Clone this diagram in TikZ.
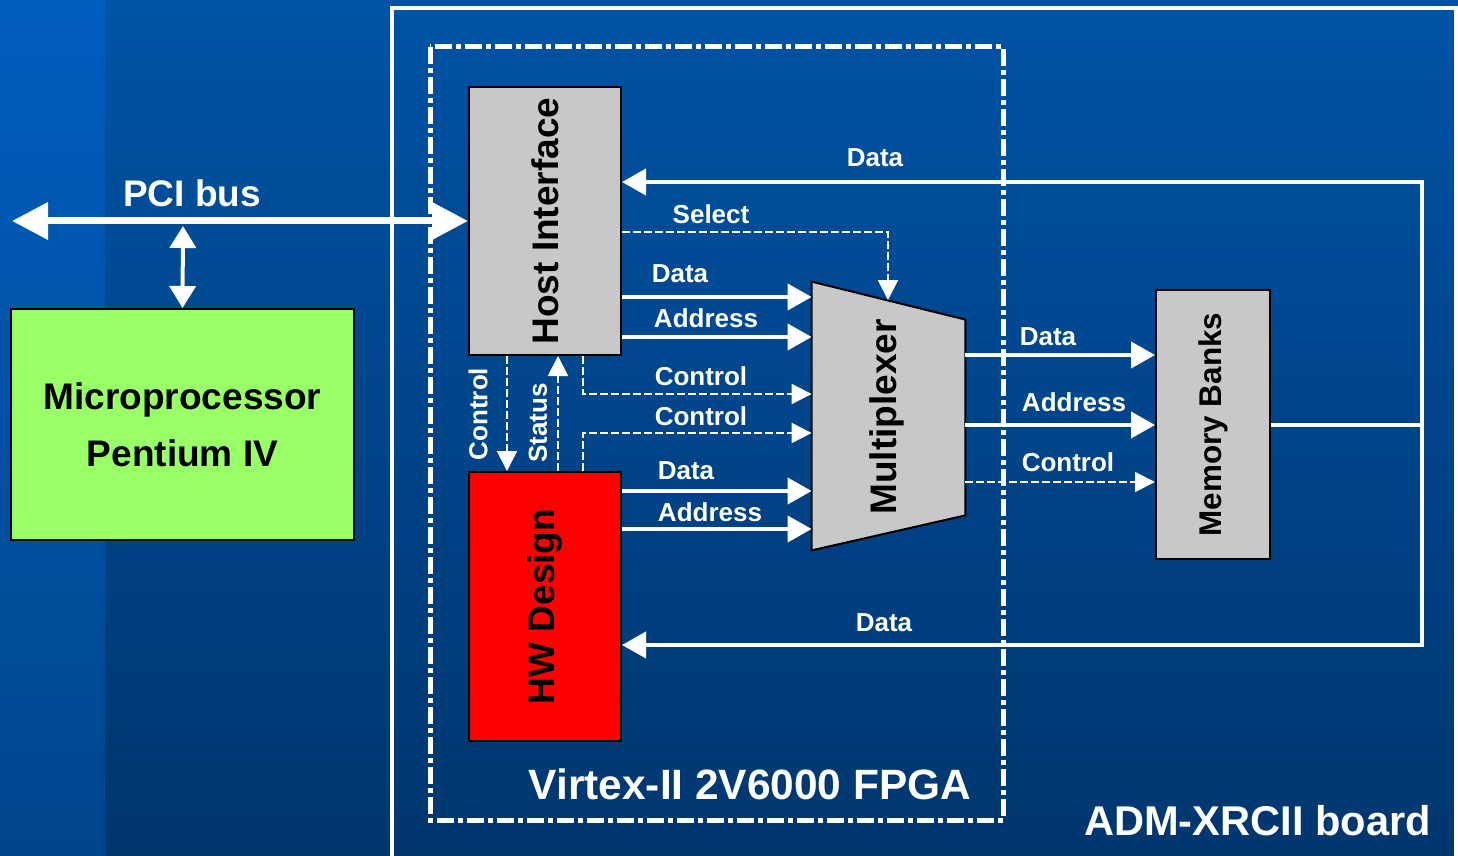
\documentclass[tikz,border=0pt]{standalone}
\usepackage{fontspec}
\setmainfont{Liberation Sans}
\usetikzlibrary{arrows.meta,calc}
\definecolor{stripTop}{RGB}{0,94,190}
\definecolor{stripBot}{RGB}{0,70,140}
\definecolor{boardTop}{RGB}{0,83,166}
\definecolor{boardBot}{RGB}{0,54,110}
\definecolor{boxgray}{RGB}{200,200,200}
\definecolor{cpugreen}{RGB}{153,255,102}
\tikzset{
	blk/.style={draw=black, line width=1pt, inner sep=0pt, font=\bfseries\fontsize{18.5}{28.5}\selectfont},
	bus/.style={draw=white, line width=2pt, -{Triangle[length=12pt,width=13pt]}},
	ctl/.style={draw=white, line width=1pt, dash pattern=on 4pt off 1.5pt, -{Triangle[length=10pt,width=10pt]}},
	lbl/.style={text=white, inner sep=0pt, anchor=base, font=\bfseries\fontsize{13}{15}\selectfont},
	bigtxt/.style={text=white, inner sep=0pt, anchor=base, font=\bfseries\fontsize{#1}{#1}\selectfont}
}

\begin{document}
\begin{tikzpicture}[x=0.5pt,y=-0.5pt]
				\useasboundingbox (0,0) rectangle (1458,856);
				\clip (0,0) rectangle (1458,856);
				\shade[top color=boardTop, bottom color=boardBot] (0,0) rectangle (1458,856);
				\shade[top color=stripTop, bottom color=stripBot] (0,0) rectangle (105,856);
				
				\draw[white, line width=2pt] (392,8) rectangle (1456,880);
				\draw[white, line width=2.5pt, dash pattern=on 8.5pt off 2pt on 2.5pt off 2pt] (430,47) rectangle (1003,820);
				
				\node[blk, fill=cpugreen, minimum width=171.5pt, minimum height=115.5pt, align=center] (cpu) at (182.5,424.5) {Microprocessor\\Pentium IV};
				\node[blk, fill=boxgray, minimum width=76pt, minimum height=134pt] (host) at (545,221) {\rotatebox{90}{Host Interface}};
				\node[blk, fill=red, minimum width=76pt, minimum height=134.5pt] (hw) at (545,606.5) {\rotatebox{90}{HW Design}};
				\node[blk, fill=boxgray, minimum width=57pt, minimum height=134.5pt, font=\bfseries\fontsize{15.7}{17}\selectfont] (mem) at (1213,424.5) {\rotatebox{90}{Memory Banks}};
				
				\node[minimum width=76.5pt, minimum height=134pt, inner sep=0pt] (mux) at (888.5,416) {};
				\draw[fill=boxgray, line width=1pt] (mux.north west) -- ($(mux.north east)+(0,38)$) -- ($(mux.south east)+(0,-35)$) -- (mux.south west) -- cycle;
				\node[font=\bfseries\fontsize{18.5}{20}\selectfont, rotate=90, inner sep=0pt] (muxlbl) at (887,417) {Multiplexer};
				
				\coordinate (pcil) at (12,221);
				\coordinate (tap) at (183,226);
				\draw[white, line width=3.5pt, {Triangle[length=18pt,width=18pt]}-{Triangle[length=18pt,width=18pt]}] (pcil) -- (host.west);
				\draw[white, line width=2pt, {Triangle[length=11pt,width=13pt]}-{Triangle[length=11pt,width=13pt]}] (tap) -- (cpu.north);
				\node[bigtxt=18.5] (pcilbl) at (192,206) {PCI bus};
				
				\coordinate (rtop) at (1422,182);
				\coordinate (rbot) at (1422,645);
				\draw[bus] (mem.east) -- (mem.east -| rtop) |- (host.east |- rtop);
				\draw[bus] (mem.east -| rtop) |- (hw.east |- rbot);
				\node[lbl] (ldata1) at (875,167) {Data};
				\node[lbl] (ldata6) at (884,631) {Data};
				
				\coordinate (selin) at (888,300);
				\draw[ctl] (host.east |- 0,232) -| (selin);
				\draw[bus] (host.east |- 0,297) -- (mux.west |- 0,297);
				\draw[bus] (host.east |- 0,337) -- (mux.west |- 0,337);
				\draw[ctl] (583,0 |- host.south) |- (mux.west |- 0,394);
				\draw[ctl] (583,0 |- hw.north) |- (mux.west |- 0,433);
				\draw[bus] (hw.east |- 0,491) -- (mux.west |- 0,491);
				\draw[bus] (hw.east |- 0,529) -- (mux.west |- 0,529);
				\node[lbl] (lsel) at (711,223) {Select};
				\node[lbl] (ldata2) at (680,283) {Data};
				\node[lbl] (laddr2) at (706,327) {Address};
				\node[lbl] (lctl2) at (701,385) {Control};
				\node[lbl] (lctl3) at (701,425) {Control};
				\node[lbl] (ldata3) at (686,479) {Data};
				\node[lbl] (laddr3) at (710,521) {Address};
				
				\draw[ctl] (507,0 |- host.south) -- (507,0 |- hw.north);
				\draw[ctl] (558,0 |- hw.north) -- (558,0 |- host.south);
				\node[lbl, anchor=center, rotate=90] (lctl1) at (478,414) {Control};
				\node[lbl, anchor=center, rotate=90] (lstat) at (538,423) {Status};
				
				\draw[bus] (mux.east |- 0,355) -- (mem.west |- 0,355);
				\draw[bus] (mux.east |- 0,425) -- (mem.west |- 0,425);
				\draw[ctl] (mux.east |- 0,482) -- (mem.west |- 0,482);
				\node[lbl] (ldata4) at (1048,345) {Data};
				\node[lbl] (laddr4) at (1074,411) {Address};
				\node[lbl] (lctl4) at (1068,471) {Control};
				
				\node[bigtxt=21.2] (fpgalbl) at (750,799) {Virtex-II 2V6000 FPGA};
				\node[bigtxt=20.8] (boardlbl) at (1257.5,835) {ADM-XRCII board};
			\end{tikzpicture}
\end{document}
